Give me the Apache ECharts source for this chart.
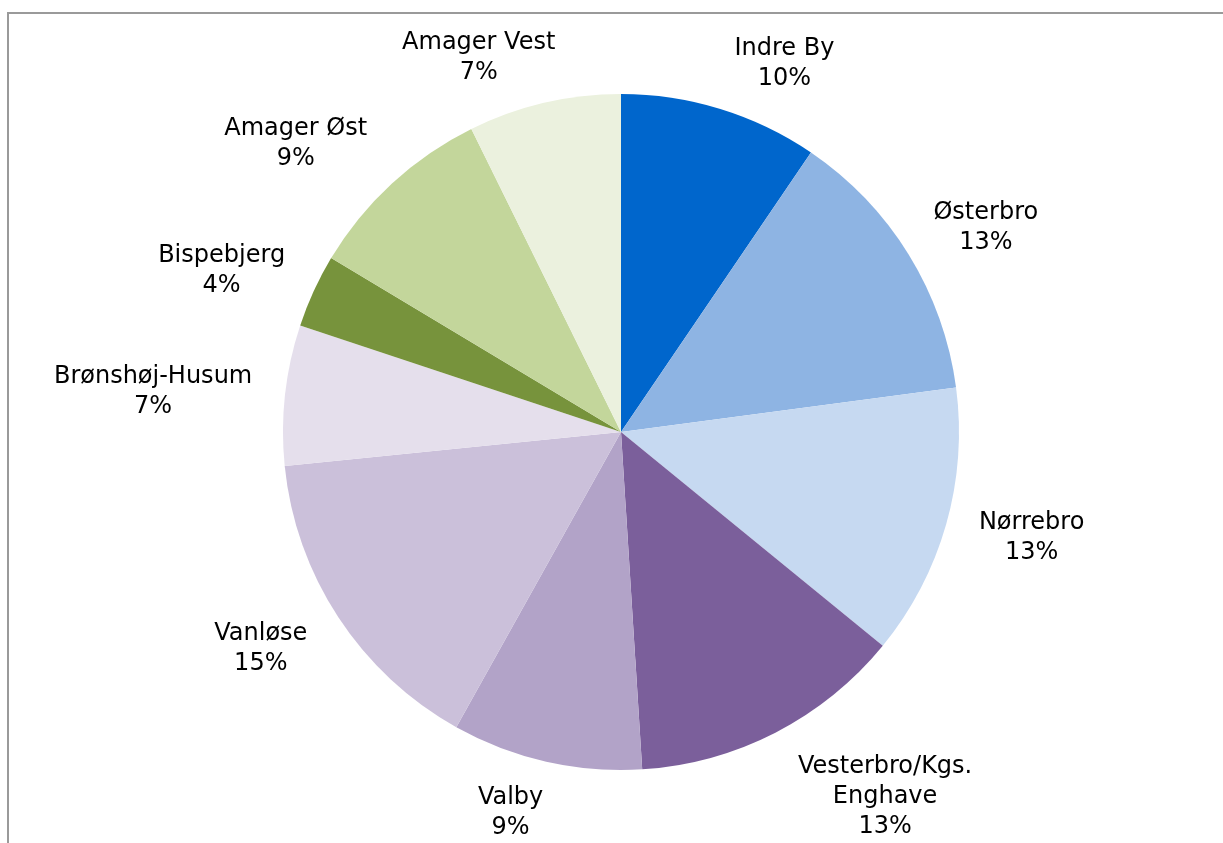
<!DOCTYPE html>
<html>
<head>
<meta charset="utf-8">
<script src="https://cdn.jsdelivr.net/npm/echarts@6/dist/echarts.min.js"></script>
<style>
  html, body { margin: 0; padding: 0; background: #fff; }
  #chart { width: 1223px; height: 843px; }
</style>
</head>
<body>
<div id="chart"></div>
<script>
// bydele, med uret fra kl. 12
const districts = ['Indre By', 'Østerbro', 'Nørrebro', 'Vesterbro/Kgs.\nEnghave', 'Valby',
  'Vanløse', 'Brønshøj-Husum', 'Bispebjerg', 'Amager Øst', 'Amager Vest']
const shares = [9.5, 13.4, 13.0, 13.1, 9.1, 15.3, 6.7, 3.5, 9.1, 7.3]
const colors = ['#0066CC', '#8EB4E3', '#C6D9F1', '#7B5F9B', '#B2A3C8',
  '#CBC0DA', '#E5DFEC', '#77933C', '#C3D69B', '#EBF1DE']

const CX = 621, CY = 432, R = 338

const total = shares.reduce((a, b) => a + b, 0)

// Excel-agtig placering: hjørnet nærmest cirklen sidder på midterlinjen af udsnittet
const placeLabel = (params) => {
  const i = params.dataIndex
  let before = 0
  for (let k = 0; k < i; k++) before += shares[k]
  const theta = (before + shares[i] / 2) / total * 2 * Math.PI
  const deg = theta * 180 / Math.PI
  const rightSide = deg < 180
  const elev = rightSide ? 90 - deg : deg - 270 // positiv = over vandret
  const d = R + (elev < 0 ? 25 : 19)
  const px = CX + d * Math.sin(theta)
  const py = CY - d * Math.cos(theta)
  // Verdana i originalen er lidt bredere end DejaVu
  const w = params.labelRect.width * 1.07
  const h = params.labelRect.height
  const f = Math.max(0, 0.55 - Math.abs(elev) / 90)
  const psi = 90 - Math.abs(elev)
  let left = rightSide ? px + 5 : px - 7 - w
  if (!rightSide && psi < 15) left += 0.17 * w
  const top = elev > 0 ? py + f * h - h : py - f * h
  return { x: left + w / 2, y: top + h / 2, align: 'center', verticalAlign: 'middle' }
}

const chart = echarts.init(document.getElementById('chart'))

const option = {
  animation: false,
  graphic: [{
    type: 'rect',
    shape: { x: 8, y: 13, width: 1400, height: 1000 },
    style: { fill: 'none', stroke: '#9a9a9a', lineWidth: 2 },
    silent: true
  }],
  series: [{
    type: 'pie',
    center: [CX, CY],
    radius: R,
    startAngle: 90,
    clockwise: true,
    percentPrecision: 0,
    avoidLabelOverlap: false,
    data: districts.map((name, i) => ({
      name,
      value: shares[i],
      itemStyle: { color: colors[i] }
    })),
    label: {
      position: 'outside',
      formatter: (p) => p.name.split('\n').map(s => '{t|' + s + '}').join('\n') + '\n{t|' + p.percent + '%}',
      rich: {
        t: {
          align: 'center',
          fontFamily: 'DejaVu Sans',
          fontSize: 24,
          lineHeight: 30,
          color: '#000'
        }
      }
    },
    labelLine: { show: false, length: 18, length2: 0 },
    labelLayout: placeLabel,
    emphasis: { disabled: true }
  }]
}

chart.setOption(option)
</script>
</body>
</html>
